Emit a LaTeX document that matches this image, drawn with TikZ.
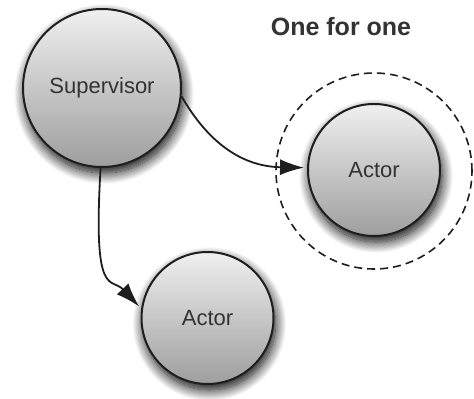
\documentclass[tikz,border=0pt]{standalone}
\usepackage{fontspec}
\setmainfont{Liberation Sans}
\usetikzlibrary{arrows.meta,shadows.blur}
\definecolor{txt}{HTML}{333333}
\definecolor{edge}{HTML}{1E1E1E}
\tikzset{
  ball/.style={circle, draw=edge, line width=2pt, inner sep=0pt,
    top color=white!94!black, bottom color=white!62!black,
    blur shadow={shadow xshift=2pt, shadow yshift=-6pt, shadow blur radius=11pt, shadow opacity=100, shadow blur steps=16},
    text=txt, font=\fontsize{22}{26}\selectfont},
  conn/.style={draw=edge, line width=1.8pt, shorten >=3pt, -{Latex[length=24pt,width=16pt]}},
  ring/.style={circle, draw=edge, line width=1.6pt, dash pattern=on 8pt off 5pt, inner sep=0pt, minimum size=196pt},
  title/.style={text=txt, font=\bfseries\fontsize{25}{30}\selectfont}
}
\begin{document}
\begin{tikzpicture}[x=1pt,y=-1pt]
\useasboundingbox (0,0) rectangle (474,399);
\node[ring] (rg) at (374,171) {};
\node[ball, minimum size=158pt] (sup) at (102,88) {Supervisor};
\node[ball, minimum size=132pt] (a1) at (374,170) {Actor};
\node[ball, minimum size=132pt] (a2) at (207.5,318) {Actor};
\node[title] (t) at (341,27) {One for one};
\draw[conn] (sup.-6) .. controls +(30,52) and +(-60,-1) .. (a1.178);
\draw[conn] (sup.-91) .. controls +(-8,133) and +(-30,-32) .. (a2.172);
\end{tikzpicture}
\end{document}
